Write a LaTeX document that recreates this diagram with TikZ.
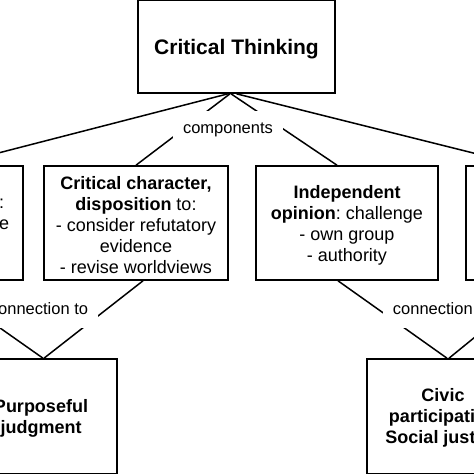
\documentclass[tikz,border=0pt]{standalone}
\usepackage{fontspec}
\setmainfont{Liberation Sans}
\frenchspacing
\begin{document}
\begin{tikzpicture}[x=1pt,y=-1pt,
  box/.style={draw, line width=1.6pt, inner sep=0pt},
  txt/.style={inner sep=0pt, align=center, font=\fontsize{18}{21}\selectfont},
  boldtxt/.style={txt, font=\bfseries\fontsize{18}{21}\selectfont},
  lbl/.style={fill=white, inner xsep=10pt, inner ysep=0pt, minimum height=38pt, font=\fontsize{16.5}{19}\selectfont},
  conn/.style={line width=1.5pt}]
\useasboundingbox (0,0) rectangle (474,474);
\clip (0,0) rectangle (474,474);
% boxes
\node[box, minimum width=197pt, minimum height=93.2pt] (top) at (236.5,46.4) {};
\node[txt, font=\bfseries\fontsize{21}{25}\selectfont] (topT) at (236.5,49.5) {Critical Thinking};
\node[box, minimum width=183pt, minimum height=114pt] (farleft) at (-68.5,223) {};
\node[txt, anchor=west, align=left] (fltext) at (-1,214.5) {:\\e};
\node[box, minimum width=184pt, minimum height=114pt] (crit) at (136,223) {};
\node[txt] (critT) at (136,225)
  {\textbf{Critical character,}\\\textbf{disposition} to:\\- consider refutatory\\evidence\\- revise worldviews};
\node[box, minimum width=182pt, minimum height=114pt] (indep) at (347,223) {};
\node[txt] (indepT) at (347,225.5)
  {\textbf{Independent}\\\textbf{opinion}: challenge\\- own group\\- authority};
\node[box, minimum width=184pt, minimum height=114pt] (farright) at (558,223) {};
\node[box, minimum width=152pt, minimum height=115pt] (purp) at (41,416.5) {};
\node[boldtxt] (purpT) at (41,418) {Purposeful\\judgment};
\node[box, minimum width=152pt, minimum height=115pt] (civic) at (443,416.5) {};
\node[boldtxt] (civicT) at (443,417.5) {Civic\\participation\\Social justice};
% inner connectors (partly covered by labels)
\draw[conn] ([xshift=-6.5pt]top.south) -- (crit.north);
\draw[conn] ([xshift=-5.5pt]top.south) -- ([xshift=-10pt]indep.north);
\draw[conn] ([xshift=7pt]crit.south) -- ([xshift=3pt]purp.north);
\draw[conn] ([xshift=-9pt]indep.south) -- ([xshift=4pt]civic.north);
\draw[conn] ([xshift=1.5pt]farleft.south) -- ([xshift=2pt]purp.north);
\draw[conn] ([xshift=-14pt]farright.south) -- ([xshift=6pt]civic.north);
% labels
\node[lbl] (comp) at (228,130) {components};
\node[lbl] (conL) at (39,309) {connection to};
\node[lbl] (conR) at (442,309) {connection to};
% outer connectors
\draw[conn] ([xshift=-8.5pt]top.south) -- ([xshift=19.5pt]farleft.north);
\draw[conn] (top.south) -- ([xshift=-36pt]farright.north);
\end{tikzpicture}
\end{document}
